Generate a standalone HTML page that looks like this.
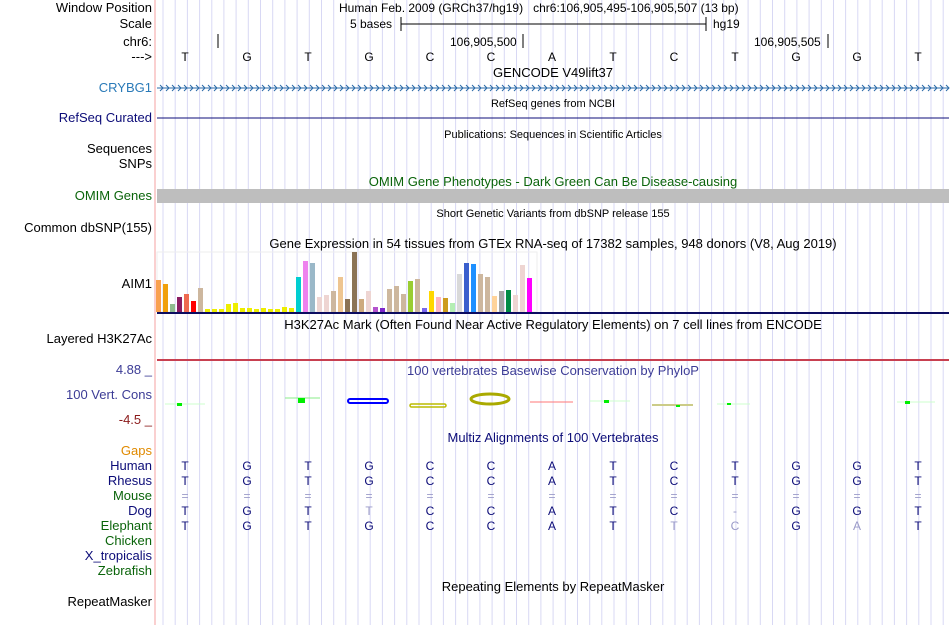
<!DOCTYPE html>
<html><head><meta charset="utf-8"><style>
body{margin:0;width:950px;height:625px;background:#fff;position:relative;overflow:hidden;font-family:"Liberation Sans",Arial,sans-serif;font-size:13px;color:#000}
.t{position:absolute;white-space:nowrap;line-height:14px}
.l{position:absolute;right:798px;white-space:nowrap;line-height:14px;text-align:right}
.c{position:absolute;left:157px;width:792px;text-align:center;white-space:nowrap;line-height:14px}
.s{font-size:11px}
</style></head><body>
<svg id="g" width="950" height="625" style="position:absolute;left:0;top:0"></svg>
<div class="l" style="top:1px">Window Position</div>
<div class="l" style="top:17px">Scale</div>
<div class="l" style="top:35px">chr6:</div>
<div class="l" style="top:50px">---&gt;</div>
<div class="t" style="left:339px;top:1px;font-size:12px">Human Feb. 2009 (GRCh37/hg19)&nbsp;&nbsp;&nbsp;chr6:106,905,495-106,905,507 (13 bp)</div>
<div class="t" style="left:350px;top:17px;font-size:12px">5 bases</div>
<div class="t" style="left:713px;top:17px;font-size:12px">hg19</div>
<div class="t" style="left:450px;top:35px;font-size:12px">106,905,500</div>
<div class="t" style="left:754px;top:35px;font-size:12px">106,905,505</div>
<div class="c" style="top:66px">GENCODE V49lift37</div>
<div class="l" style="top:81px;color:#2a7ab8">CRYBG1</div>
<div class="c s" style="top:97px">RefSeq genes from NCBI</div>
<div class="l" style="top:111px;color:#0c0c78">RefSeq Curated</div>
<div class="c s" style="top:128px">Publications: Sequences in Scientific Articles</div>
<div class="l" style="top:142px">Sequences</div>
<div class="l" style="top:157px">SNPs</div>
<div class="c" style="top:175px;color:#0a640a">OMIM Gene Phenotypes - Dark Green Can Be Disease-causing</div>
<div class="l" style="top:189px;color:#0a640a">OMIM Genes</div>
<div class="c s" style="top:207px">Short Genetic Variants from dbSNP release 155</div>
<div class="l" style="top:221px">Common dbSNP(155)</div>
<div class="c" style="top:237px">Gene Expression in 54 tissues from GTEx RNA-seq of 17382 samples, 948 donors (V8, Aug 2019)</div>
<div class="l" style="top:277px">AIM1</div>
<div class="c" style="top:318px">H3K27Ac Mark (Often Found Near Active Regulatory Elements) on 7 cell lines from ENCODE</div>
<div class="l" style="top:332px">Layered H3K27Ac</div>
<div class="l" style="top:363px;color:#3c3c96">4.88 _</div>
<div class="c" style="top:364px;color:#3c3c96">100 vertebrates Basewise Conservation by PhyloP</div>
<div class="l" style="top:388px;color:#3c3c96">100 Vert. Cons</div>
<div class="l" style="top:413px;color:#8b1a1a">-4.5 _</div>
<div class="c" style="top:431px;color:#0c0c78">Multiz Alignments of 100 Vertebrates</div>
<div class="l" style="top:444px;color:#e08a00">Gaps</div>
<div class="l" style="top:459px;color:#0c0c78">Human</div>
<div class="l" style="top:474px;color:#0c0c78">Rhesus</div>
<div class="l" style="top:489px;color:#0a640a">Mouse</div>
<div class="l" style="top:504px;color:#0c0c78">Dog</div>
<div class="l" style="top:519px;color:#0a640a">Elephant</div>
<div class="l" style="top:534px;color:#0a640a">Chicken</div>
<div class="l" style="top:549px;color:#0c0c78">X_tropicalis</div>
<div class="l" style="top:564px;color:#0a640a">Zebrafish</div>
<div class="c" style="top:580px">Repeating Elements by RepeatMasker</div>
<div class="l" style="top:595px">RepeatMasker</div>
<div id="txt"></div>
<script>
var s='';
for(var x=157+6;x<950;x+=12.19)s+='<line x1="'+x.toFixed(1)+'" y1="0" x2="'+x.toFixed(1)+'" y2="625" stroke="#d8d8f4" stroke-width="1"/>';
s+='<line x1="155" y1="0" x2="155" y2="625" stroke="#f4a0a0" stroke-width="1"/>';
s+='<line x1="401" y1="24" x2="706" y2="24" stroke="#000"/><line x1="401" y1="17" x2="401" y2="31" stroke="#000"/><line x1="706" y1="17" x2="706" y2="31" stroke="#000"/>';
s+='<line x1="218" y1="34" x2="218" y2="48" stroke="#000"/><line x1="523" y1="34" x2="523" y2="48" stroke="#000"/><line x1="828" y1="34" x2="828" y2="48" stroke="#000"/>';
s+='<line x1="157" y1="88" x2="949" y2="88" stroke="#2a6aa8"/>';
for(var x=160;x<949;x+=6)s+='<polyline points="'+x+',85 '+(x+3)+',88 '+x+',91" fill="none" stroke="#2a6aa8"/>';
s+='<line x1="157" y1="118" x2="949" y2="118" stroke="#0c0c78"/>';
s+='<rect x="157" y="189" width="792" height="14" fill="#bebebe"/>';
s+='<rect x="157" y="252" width="380" height="60" fill="none" stroke="#eee"/>';
var b=[[32,'#f9a04f'],[28,'#f0a00c'],[8,'#8fbc8f'],[15,'#8b1c62'],[18,'#ee6a50'],[11,'#f00'],[24,'#cdb79e'],[3,'#ee0'],[3,'#ee0'],[3,'#ee0'],[8,'#ee0'],[9,'#ee0'],[4,'#ee0'],[4,'#ee0'],[3,'#ee0'],[4,'#ee0'],[3,'#ee0'],[3,'#ee0'],[5,'#ee0'],[4,'#ee0'],[35,'#00ced1'],[51,'#ee82ee'],[49,'#9ab8c8'],[15,'#eed5d2'],[17,'#eed5d2'],[21,'#cdb79e'],[35,'#eec591'],[13,'#8b7355'],[60,'#8b7355'],[13,'#cdaa7d'],[21,'#eed5d2'],[5,'#b452cd'],[4,'#7d26cd'],[23,'#cdb79e'],[26,'#cdb79e'],[18,'#cdb79e'],[31,'#9acd32'],[33,'#cdb79e'],[4,'#7a67ee'],[21,'#ffd700'],[15,'#ffb6c1'],[14,'#cd9b1d'],[9,'#b4eeb4'],[38,'#d9d9d9'],[49,'#3a5fcd'],[48,'#1e90ff'],[38,'#cdb79e'],[35,'#cdb79e'],[16,'#ffd39b'],[21,'#a6a6a6'],[22,'#008b45'],[17,'#eed5d2'],[47,'#eed5d2'],[34,'#f0f']];
b.forEach(function(v,i){s+='<rect x="'+(156+i*7)+'" y="'+(312-v[0])+'" width="5" height="'+v[0]+'" fill="'+v[1]+'"/>';});
s+='<rect x="157" y="312" width="792" height="2" fill="#0c0c60"/>';
s+='<rect x="157" y="359" width="792" height="2" fill="#c84050"/>';
s+='<line x1="165" y1="404" x2="205" y2="404" stroke="#cfc" /><rect x="177" y="403" width="5" height="3" fill="#0e0"/>';
s+='<line x1="285" y1="398" x2="320" y2="398" stroke="#8e8"/><rect x="298" y="398" width="7" height="5" fill="#0e0"/>';
s+='<rect x="348" y="399" width="40" height="4" rx="2" fill="none" stroke="#00f" stroke-width="2"/>';
s+='<rect x="410" y="404" width="36" height="3" rx="1.5" fill="none" stroke="#bb0" stroke-width="1.5"/>';
s+='<ellipse cx="490" cy="399" rx="19" ry="5" fill="none" stroke="#aa0" stroke-width="3"/>';
s+='<line x1="530" y1="402" x2="573" y2="402" stroke="#f77"/>';
s+='<line x1="590" y1="401" x2="630" y2="401" stroke="#cfc"/><rect x="604" y="400" width="5" height="3" fill="#0e0"/>';
s+='<line x1="652" y1="405" x2="693" y2="405" stroke="#cc8" stroke-width="2"/><rect x="676" y="405" width="4" height="2" fill="#0e0"/>';
s+='<line x1="717" y1="404" x2="750" y2="404" stroke="#cfc"/><rect x="727" y="403" width="4" height="2" fill="#0e0"/>';
s+='<line x1="897" y1="402" x2="935" y2="402" stroke="#cfc"/><rect x="905" y="401" width="5" height="3" fill="#0e0"/>';
document.getElementById('g').innerHTML=s;
var xs=[184,246,307,368,429,490,551,612,673,734,795,856,917];
var rows=[[57,'TGTGCCATCTGGT','#000',''],[466,'TGTGCCATCTGGT','#0c0c78',''],[481,'TGTGCCATCTGGT','#0c0c78',''],[496,'=============','#9a9ac8','x'],[511,'TGTTCCATC-GGT','#0c0c78','0001000001000'],[526,'TGTGCCATTCGAT','#0c0c78','0000000011010']];
var h='';
rows.forEach(function(r){for(var i=0;i<13;i++){var c=r[2];if(r[3]=='x')c='#9a9ac8';else if(r[3][i]=='1')c='#9a9ac8';h+='<div class="t" style="font-size:12px;left:'+(xs[i]-5)+'px;width:12px;text-align:center;top:'+(r[0]-7)+'px;color:'+c+'">'+r[1][i]+'</div>';}});
document.getElementById('txt').innerHTML=h;
</script>
</body></html>
